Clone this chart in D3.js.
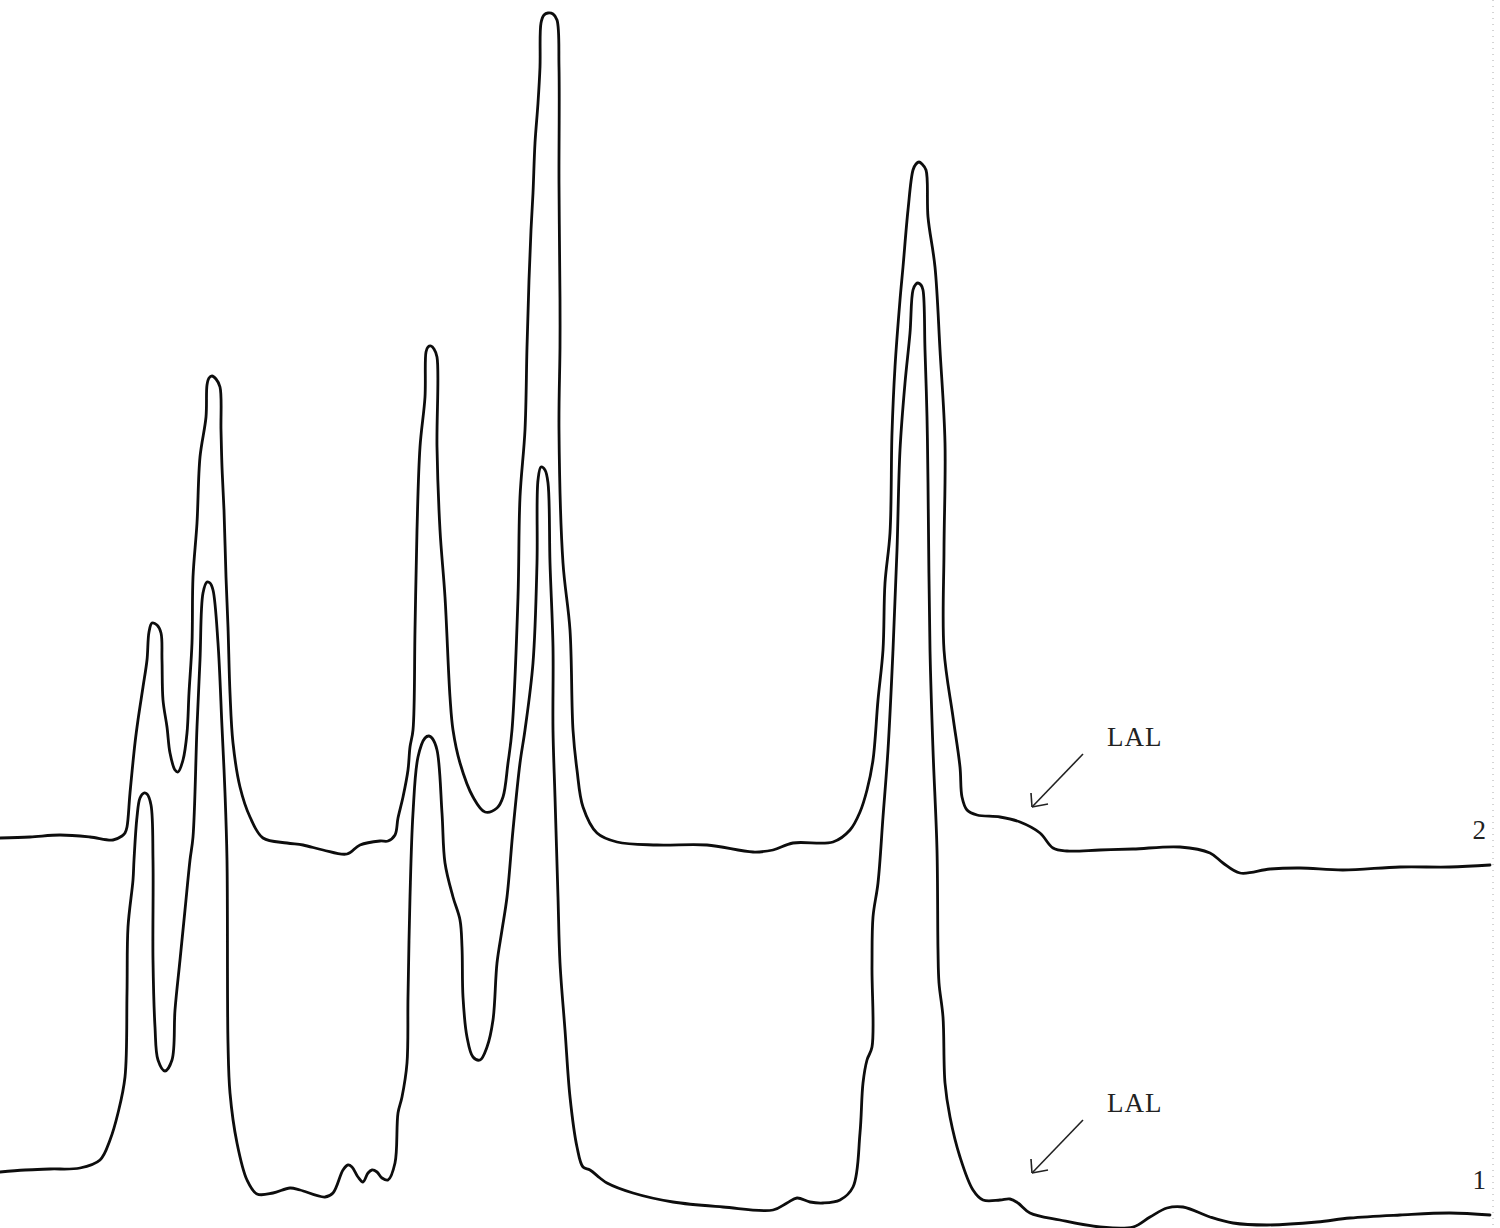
<!DOCTYPE html>
<html>
<head>
<meta charset="utf-8">
<script src="https://cdn.jsdelivr.net/npm/d3@7"></script>
<style>
  html, body { margin: 0; padding: 0; background: #fff; }
  svg { display: block; }
</style>
</head>
<body>
<div id="chart"></div>
<script>
// retention time (arbitrary units) and detector response
const trace2Time = [0, 30, 60, 90, 113, 122, 125, 127, 130, 135, 138, 143, 147, 149, 152, 157, 161, 162, 163, 167, 170, 175, 178, 183, 187, 189, 192, 193, 197, 200, 206, 207, 209, 212, 216, 220, 221, 222, 224, 226, 228, 230, 233, 240, 250, 263, 287, 303, 323, 347, 360, 380, 388, 395, 398, 403, 408, 410, 413, 415, 417, 420, 425, 426, 428, 431, 434, 437, 437, 440, 445, 450, 453, 460, 473, 485, 497, 503, 508, 512, 518, 520, 525, 527, 529, 531, 533, 535, 538, 540, 541, 544, 548, 553, 557, 559, 559, 560, 560, 559, 563, 570, 573, 577, 583, 597, 617, 657, 707, 753, 773, 793, 833, 850, 860, 867, 873, 878, 883, 885, 890, 892, 895, 900, 903, 908, 913, 916, 919, 922, 926, 928, 935, 940, 945, 944, 944, 953, 960, 962, 967, 977, 1000, 1020, 1040, 1053, 1067, 1100, 1133, 1180, 1210, 1223, 1240, 1270, 1300, 1343, 1400, 1450, 1490];
const trace2Resp = [390, 391, 393, 391, 388, 392, 395, 401, 435, 485, 508, 541, 568, 596, 605, 603, 595, 568, 528, 501, 475, 458, 456, 468, 495, 535, 585, 651, 705, 771, 811, 843, 850, 852, 849, 841, 798, 761, 718, 651, 601, 535, 485, 441, 411, 390, 385, 383, 378, 374, 383, 387, 387, 393, 410, 431, 458, 481, 498, 598, 698, 781, 831, 876, 881, 882, 879, 871, 781, 698, 631, 531, 498, 465, 431, 416, 420, 431, 465, 498, 631, 731, 798, 881, 948, 998, 1035, 1085, 1125, 1161, 1205, 1213, 1215, 1214, 1208, 1161, 1045, 928, 881, 798, 665, 598, 498, 458, 421, 395, 386, 383, 383, 376, 378, 385, 386, 398, 416, 438, 468, 528, 578, 645, 695, 795, 861, 928, 961, 1018, 1058, 1064, 1066, 1064, 1058, 1011, 961, 878, 785, 678, 578, 511, 461, 431, 418, 413, 411, 406, 395, 380, 377, 378, 379, 381, 375, 365, 355, 359, 360, 358, 361, 361, 363];

const trace1Time = [0, 25, 50, 80, 100, 110, 118, 125, 127, 128, 133, 134, 137, 140, 144, 147, 151, 153, 153, 155, 158, 165, 172, 175, 180, 185, 190, 193, 197, 200, 203, 207, 210, 213, 218, 222, 225, 227, 228, 230, 237, 247, 257, 273, 290, 300, 325, 333, 343, 348, 352, 358, 363, 368, 372, 377, 382, 388, 395, 398, 402, 407, 408, 410, 413, 418, 425, 429, 432, 437, 442, 445, 453, 460, 462, 463, 467, 473, 480, 487, 493, 497, 502, 507, 513, 520, 525, 533, 537, 538, 541, 545, 548, 550, 553, 553, 555, 558, 560, 565, 570, 577, 583, 590, 600, 607, 633, 673, 723, 773, 787, 797, 810, 823, 840, 853, 860, 863, 867, 872, 872, 873, 878, 883, 888, 893, 897, 900, 905, 910, 913, 916, 918, 921, 923, 925, 927, 928, 930, 933, 937, 938, 939, 943, 945, 950, 960, 973, 983, 1000, 1010, 1018, 1030, 1060, 1100, 1133, 1150, 1167, 1183, 1210, 1233, 1267, 1317, 1350, 1400, 1450, 1490];
const trace1Resp = [56, 58, 59, 60, 68, 88, 115, 151, 235, 301, 348, 368, 411, 430, 435, 434, 423, 368, 268, 201, 168, 157, 168, 218, 268, 318, 368, 391, 501, 568, 635, 646, 645, 638, 585, 501, 435, 368, 185, 135, 85, 48, 34, 35, 40, 38, 31, 35, 58, 63, 61, 51, 46, 55, 58, 56, 50, 48, 65, 115, 131, 165, 231, 331, 415, 471, 490, 492, 490, 478, 415, 365, 331, 308, 281, 231, 191, 171, 168, 181, 208, 265, 298, 331, 398, 465, 498, 565, 665, 748, 761, 758, 745, 665, 581, 498, 431, 331, 265, 198, 131, 81, 61, 58, 50, 45, 35, 26, 21, 18, 25, 30, 26, 25, 28, 41, 95, 145, 168, 181, 261, 311, 345, 411, 478, 578, 678, 778, 845, 895, 938, 944, 945, 943, 938, 878, 811, 745, 578, 478, 378, 278, 245, 211, 145, 111, 71, 38, 28, 28, 29, 25, 15, 8, 1, 1, 11, 20, 21, 11, 5, 3, 6, 10, 13, 15, 13];

const annotations = [
  { label: 'LAL', trace: '2', time: 1032, resp: 421 },
  { label: 'LAL', trace: '1', time: 1032, resp: 55 }
];

const width = 1500, height = 1228;
const svg = d3.select('#chart').append('svg').attr('width', width).attr('height', height);

const x = d3.scaleLinear().domain([0, 1500]).range([0, width]);
const y = d3.scaleLinear().domain([0, 1228]).range([height, 0]);

const line = d3.line().x(d => x(d[0])).y(d => y(d[1])).curve(d3.curveCatmullRom.alpha(0.5));

// faint scan edge on the right
svg.append('line').attr('x1', 1493).attr('x2', 1493).attr('y1', 0).attr('y2', height)
  .attr('stroke', '#aaa').attr('stroke-width', 1).attr('stroke-dasharray', '1,5');

const traces = [
  { name: '2', pts: d3.zip(trace2Time, trace2Resp) },
  { name: '1', pts: d3.zip(trace1Time, trace1Resp) }
];

svg.selectAll('.trace').data(traces).enter().append('path')
  .attr('class', 'trace')
  .attr('d', d => line(d.pts))
  .attr('fill', 'none').attr('stroke', '#0d0d0d').attr('stroke-width', 2.8)
  .attr('stroke-linejoin', 'round').attr('stroke-linecap', 'round');

// trace numbers at the right end
traces.forEach(t => {
  const last = t.pts[t.pts.length - 1];
  svg.append('text').attr('x', x(last[0]) - 4).attr('y', y(last[1]) - 26)
    .attr('text-anchor', 'end').attr('font-family', 'Liberation Serif, serif')
    .attr('font-size', 27).attr('fill', '#222').text(t.name);
});

// LAL arrows
annotations.forEach(a => {
  const tx = x(a.time), ty = y(a.resp);
  const g = svg.append('g').attr('stroke', '#222').attr('stroke-width', 1.6).attr('fill', 'none');
  g.append('line').attr('x1', tx + 51).attr('y1', ty - 53).attr('x2', tx).attr('y2', ty);
  g.append('line').attr('x1', tx).attr('y1', ty).attr('x2', tx - 1).attr('y2', ty - 14);
  g.append('line').attr('x1', tx).attr('y1', ty).attr('x2', tx + 16).attr('y2', ty - 3);
  svg.append('text').attr('x', tx + 75).attr('y', ty - 61)
    .attr('font-family', 'Liberation Serif, serif').attr('font-size', 27)
    .attr('letter-spacing', 1).attr('fill', '#222').text(a.label);
});
</script>
</body>
</html>
